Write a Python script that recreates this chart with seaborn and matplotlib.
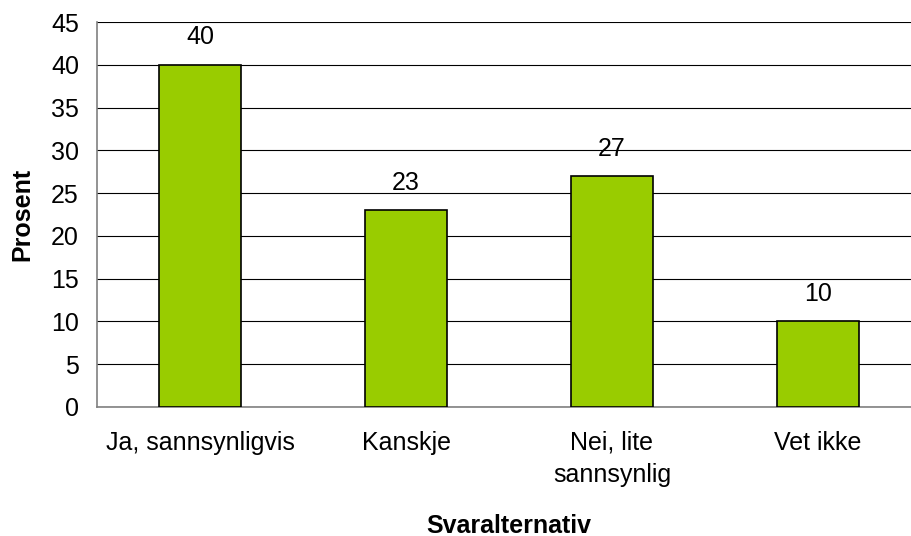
import numpy as np
import pandas as pd
import matplotlib
matplotlib.use('Agg')
from matplotlib import pyplot as plt
import seaborn as sns

# Chart data
categories = ['Ja, sannsynligvis', 'Kanskje', 'Nei, lite\nsannsynlig', 'Vet ikke']
values = [40, 23, 27, 10]
y_ticks = [0, 5, 10, 15, 20, 25, 30, 35, 40, 45]

df = pd.DataFrame({'Svaralternativ': categories, 'Prosent': values})

sns.set_style('white')
plt.rcParams['font.family'] = ['Liberation Sans', 'DejaVu Sans']
plt.rcParams['text.color'] = 'black'
plt.rcParams['xtick.color'] = 'black'
plt.rcParams['ytick.color'] = 'black'
plt.rcParams['axes.labelcolor'] = 'black'

fig = plt.figure(figsize=(9.11, 5.36), dpi=100)
ax = fig.add_axes([97 / 911, 129 / 536, 824 / 911, 385 / 536])

sns.barplot(data=df, x='Svaralternativ', y='Prosent', color='#99CC00',
            saturation=1, width=0.4, edgecolor='black', linewidth=1.2,
            zorder=3, ax=ax)

ax.set_xlim(-0.5, 3.5)
ax.set_ylim(0, 45)
ax.set_yticks(y_ticks)
ax.yaxis.grid(True, color='black', linewidth=0.8)
ax.set_axisbelow(True)

for spine in ['top', 'right']:
    ax.spines[spine].set_visible(False)
ax.spines['left'].set_color('#808080')
ax.spines['bottom'].set_color('#808080')
ax.spines['left'].set_linewidth(1.2)
ax.spines['bottom'].set_linewidth(1.2)

# category boundaries as minor ticks
ax.set_xticks(np.arange(-0.5, 4, 1), minor=True)
ax.tick_params(axis='x', which='minor', length=7, width=1, color='#404040', direction='out')
ax.tick_params(axis='x', which='major', length=0, pad=17, labelsize=18)
ax.tick_params(axis='y', length=7, width=1, color='#404040', direction='out', pad=6, labelsize=18)
for lbl in ax.get_xticklabels():
    lbl.set_linespacing(1.45)

for i, v in enumerate(values):
    ax.annotate(str(v), (i, v), xytext=(0, 11), textcoords='offset points',
                ha='center', va='bottom', fontsize=18)

ax.set_xlabel('Svaralternativ', fontsize=18, fontweight='bold', labelpad=19)
ax.set_ylabel('Prosent', fontsize=18, fontweight='bold', labelpad=12)

plt.savefig('out.png', dpi=100)
plt.close()
